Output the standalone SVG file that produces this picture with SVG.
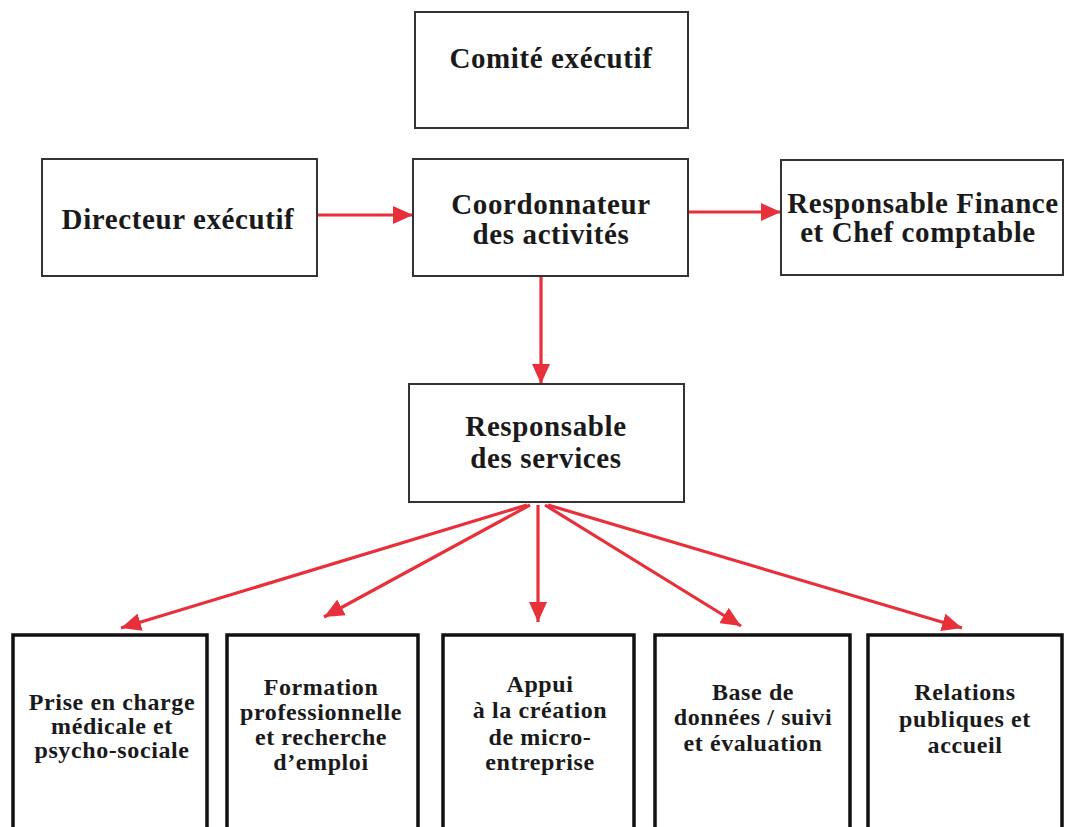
<svg xmlns="http://www.w3.org/2000/svg" width="1065" height="827" viewBox="0 0 1065 827">
<defs>
<style>
.top{fill:#fff;stroke:#333;stroke-width:2}
.bot{fill:#fff;stroke:#111;stroke-width:3.5}
.t{font-family:"Liberation Serif","Times New Roman",serif;font-weight:bold;fill:#1a1a1a;text-anchor:middle}
.big{font-size:29px;letter-spacing:0.6px}
.sm{font-size:24px;letter-spacing:0.6px}
.c{stroke:#e8303a;stroke-width:3.2;fill:none;marker-end:url(#ah)}
</style>
<marker id="ah" markerUnits="userSpaceOnUse" markerWidth="22" markerHeight="18" refX="20" refY="9" orient="auto">
<path d="M0,0 L20,9 L0,18 z" fill="#e8303a"/>
</marker>
</defs>
<g id="connectors">
<line class="c" x1="317" y1="215" x2="413" y2="215"/>
<line class="c" x1="688" y1="212" x2="781" y2="212"/>
<line class="c" x1="541" y1="276" x2="541" y2="384"/>
<line class="c" x1="527" y1="505" x2="121" y2="628"/>
<line class="c" x1="530" y1="505" x2="324" y2="617"/>
<line class="c" x1="538" y1="505" x2="538" y2="622"/>
<line class="c" x1="545" y1="505" x2="741" y2="626"/>
<line class="c" x1="548" y1="505" x2="962" y2="628"/>
</g>
<g id="comite">
<rect class="top" x="415" y="12" width="273" height="116"/>
<text class="t big" x="551" y="68">Comité exécutif</text>
</g>
<g id="directeur">
<rect class="top" x="42" y="159" width="275" height="117"/>
<text class="t big" x="178" y="229">Directeur exécutif</text>
</g>
<g id="coordonnateur">
<rect class="top" x="413" y="159" width="275" height="117"/>
<text class="t big" x="551" y="214">Coordonnateur</text>
<text class="t big" x="551" y="244">des activités</text>
</g>
<g id="finance">
<rect class="top" x="781" y="160" width="282" height="115"/>
<text class="t big" x="923" y="213">Responsable Finance</text>
<text class="t big" x="918" y="242">et Chef comptable</text>
</g>
<g id="services">
<rect class="top" x="409" y="384" width="275" height="118"/>
<text class="t big" x="546" y="436">Responsable</text>
<text class="t big" x="546" y="468">des services</text>
</g>
<g id="prise">
<rect class="bot" x="13" y="635" width="194" height="200"/>
<text class="t sm" x="112" y="710">Prise en charge</text>
<text class="t sm" x="112" y="734">médicale et</text>
<text class="t sm" x="112" y="758">psycho-sociale</text>
</g>
<g id="formation">
<rect class="bot" x="227" y="635" width="191" height="200"/>
<text class="t sm" x="321" y="695">Formation</text>
<text class="t sm" x="321" y="720">professionnelle</text>
<text class="t sm" x="321" y="745">et recherche</text>
<text class="t sm" x="321" y="770">d’emploi</text>
</g>
<g id="appui">
<rect class="bot" x="443" y="635" width="191" height="200"/>
<text class="t sm" x="540" y="692">Appui</text>
<text class="t sm" x="540" y="718">à la création</text>
<text class="t sm" x="540" y="745">de micro-</text>
<text class="t sm" x="540" y="770">entreprise</text>
</g>
<g id="base">
<rect class="bot" x="655" y="635" width="195" height="200"/>
<text class="t sm" x="753" y="700">Base de</text>
<text class="t sm" x="753" y="725">données / suivi</text>
<text class="t sm" x="753" y="751">et évaluation</text>
</g>
<g id="relations">
<rect class="bot" x="868" y="635" width="194" height="200"/>
<text class="t sm" x="965" y="700">Relations</text>
<text class="t sm" x="965" y="727">publiques et</text>
<text class="t sm" x="965" y="753">accueil</text>
</g>
</svg>
